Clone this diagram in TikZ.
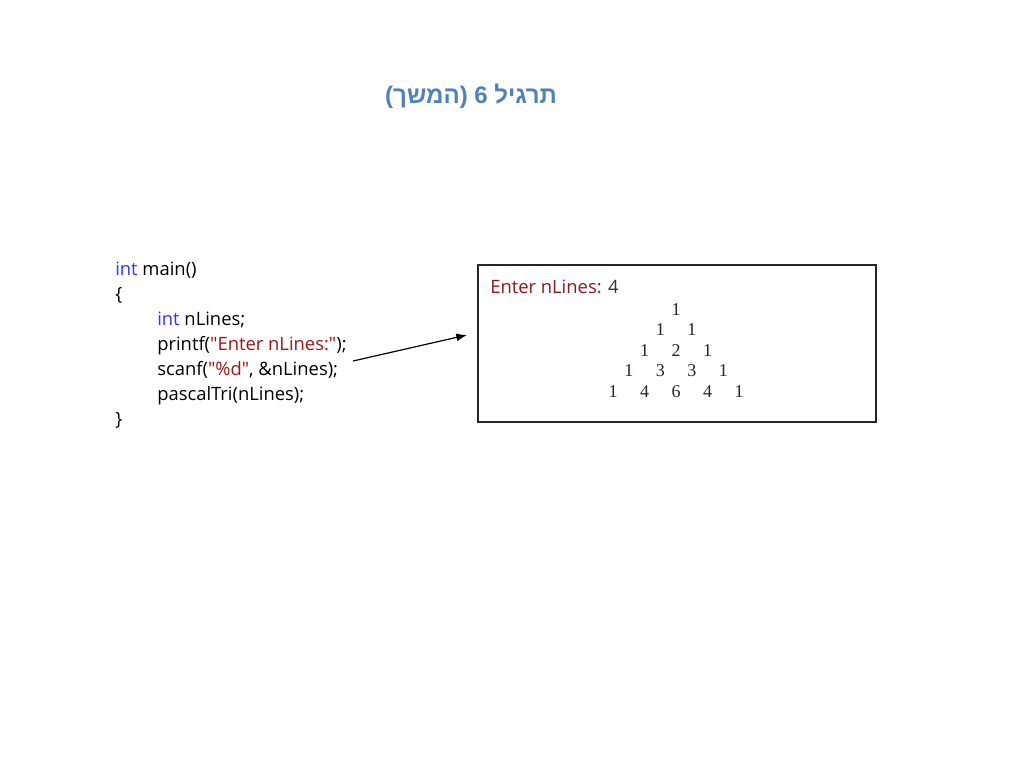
\documentclass[tikz,border=0pt]{standalone}
\usepackage{fontspec}
\setmainfont{Liberation Serif}
\newfontfamily\hebfont[Script=Hebrew]{Liberation Sans}
\newfontfamily\codefont{Open Sans}
\TeXXeTstate=1
\usetikzlibrary{arrows.meta}
\definecolor{titleblue}{RGB}{79,129,189}
\definecolor{keyblue}{RGB}{51,51,255}
\definecolor{strred}{RGB}{163,21,21}
\definecolor{outred}{RGB}{140,25,30}
\tikzset{
	codeline/.style={anchor=base west, inner sep=0pt, font=\codefont\fontsize{13.8}{16}\selectfont},
	pascalnum/.style={anchor=base, inner sep=0pt, font=\fontsize{13.5}{15}\selectfont, text=black!85},
}
\newcommand{\kw}[1]{\textcolor{keyblue}{#1}}
\newcommand{\str}[1]{\textcolor{strred}{#1}}

\begin{document}
\begin{tikzpicture}[x=0.75pt, y=-0.75pt]
			%%%%% START %%%%%
			\useasboundingbox[fill=white] (0, 0) rectangle (1024, 768);
			
			% title
			\node[anchor=base, inner sep=0pt, text=titleblue, font=\hebfont\bfseries\fontsize{18}{21}\selectfont] (title) at (471, 103) {\beginR תרגיל 6 (המשך)\endR};
			
			% code
			\node[codeline] (l1) at (115, 275) {\kw{int} main()};
			\node[codeline] (l2) at (115, 300) {\{};
			\node[codeline] (l3) at (157, 325) {\kw{int} nLines;};
			\node[codeline] (l4) at (157, 350) {printf(\str{"Enter nLines:"});};
			\node[codeline] (l5) at (157, 375) {scanf(\str{"\%d"}, \&nLines);};
			\node[codeline] (l6) at (157, 400) {pascalTri(nLines);};
			\node[codeline] (l7) at (115, 425) {\}};
			
			% output screen
			\node[draw=black!85, line width=1.1pt, minimum width=398*0.75pt, minimum height=157*0.75pt, inner sep=0pt] (screen) at (677, 343.5) {};
			\node[codeline] (prompt) at (490, 293) {\textcolor{outred}{Enter nLines:} \textcolor{black!80}{4}};
			
			\foreach \r in {0,...,4}
				\foreach \k in {0,...,\r}
				{
					\pgfmathtruncatemacro{\val}{factorial(\r)/(factorial(\k)*factorial(\r-\k))}
					\node[pascalnum] (p\r\k) at ({676 + 31.5*(\k - \r/2)}, {315 + 20.5*\r}) {\val};
				}
			
			% arrow
			\coordinate (from) at (353, 361);
			\coordinate (to) at (467, 335);
			\draw[line width=0.9pt, -{Latex[length=8pt, width=6pt]}] (from) -- (to);
			
			%%%%% END %%%%%
\end{tikzpicture}
\end{document}
